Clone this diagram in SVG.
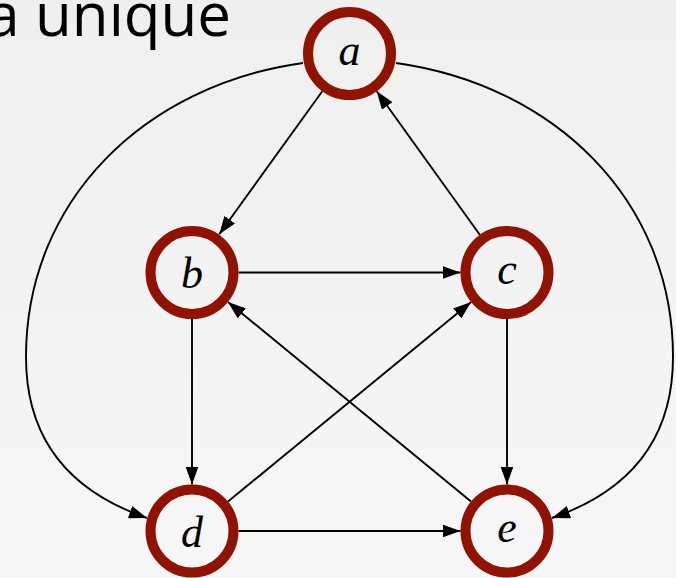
<svg xmlns="http://www.w3.org/2000/svg" width="676" height="578" viewBox="0 0 676 578">
<defs>
<linearGradient id="bg" x1="0" y1="0" x2="0" y2="1">
<stop offset="0" stop-color="#efefef"/>
<stop offset="1" stop-color="#f7f7f7"/>
</linearGradient>
<marker id="arr" markerUnits="userSpaceOnUse" markerWidth="18" markerHeight="13" refX="18" refY="6.5" orient="auto">
<path d="M0,0 L18,6.5 L0,13 z" fill="#000"/>
</marker>
<style>
.node circle{fill:none;stroke:#8f1300;stroke-width:10}
.node text{font-family:"Liberation Serif","Times New Roman",serif;font-style:italic;font-size:44px;text-anchor:middle;fill:#000}
#edges path,#edges line{fill:none;stroke:#000;stroke-width:1.9;marker-end:url(#arr)}
.title{font-family:"Open Sans","Noto Sans",sans-serif;font-size:60px;fill:#000;text-anchor:end}
</style>
</defs>
<rect width="676" height="578" fill="url(#bg)"/>
<text class="title" x="231" y="36">a unique</text>
<g id="edges">
<line x1="322.3" y1="91.2" x2="219.2" y2="234.3"/>
<line x1="479.8" y1="234.7" x2="376.7" y2="91.3"/>
<line x1="238.5" y1="272.5" x2="460.5" y2="272.5"/>
<line x1="192" y1="319" x2="192" y2="484.5"/>
<line x1="507" y1="319" x2="507" y2="484.5"/>
<line x1="228" y1="501.5" x2="471.1" y2="302"/>
<line x1="471" y1="501.5" x2="228" y2="302"/>
<line x1="238.5" y1="531" x2="460.5" y2="531"/>
<path d="M303,63 C145,85 26,200 26,357 C26,430 60,488 147,518"/>
<path d="M396,63 C554,85 673,200 673,357 C673,430 639,488 552,518"/>
</g>
<g id="node-a" class="node"><circle cx="349.5" cy="53.5" r="41.5"/><text x="349.5" y="65">a</text></g>
<g id="node-b" class="node"><circle cx="192" cy="272.5" r="41.5"/><text x="192" y="288">b</text></g>
<g id="node-c" class="node"><circle cx="507" cy="272.5" r="41.5"/><text x="507" y="283.5">c</text></g>
<g id="node-d" class="node"><circle cx="192" cy="531" r="41.5"/><text x="192" y="546.5">d</text></g>
<g id="node-e" class="node"><circle cx="507" cy="531" r="41.5"/><text x="507" y="542">e</text></g>
</svg>
